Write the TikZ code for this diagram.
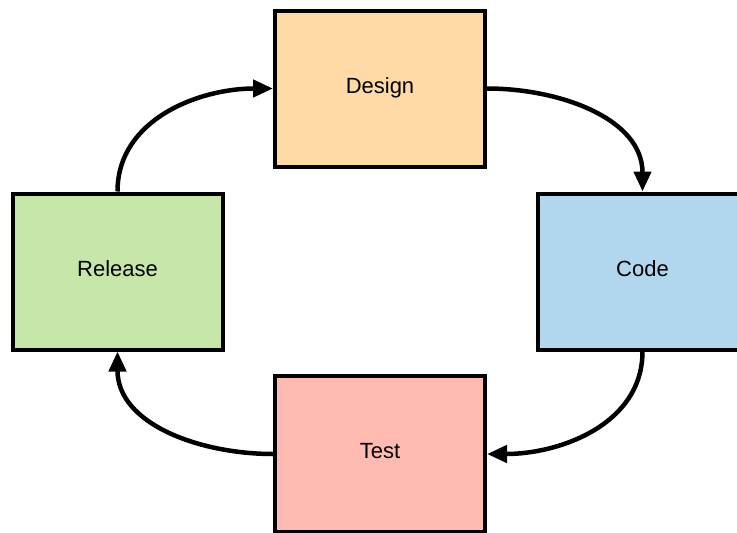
\documentclass[tikz,border=0pt]{standalone}
\usepackage{fontspec}
\setmainfont{Liberation Sans}
\usetikzlibrary{arrows.meta}
\definecolor{cdesign}{RGB}{255,217,166}
\definecolor{ccode}{RGB}{179,214,239}
\definecolor{crelease}{RGB}{198,230,170}
\definecolor{ctest}{RGB}{255,186,178}
\tikzset{
  stage/.style={draw=black, line width=4pt, minimum width=210pt, minimum height=156pt,
    inner sep=0pt, text height=15.75pt, text depth=6pt, font=\fontsize{22}{26}\selectfont},
  flow/.style={line width=4.5pt, -{Triangle[length=20pt,width=17pt]}}
}
\begin{document}
\begin{tikzpicture}[x=1pt,y=-1pt]
\useasboundingbox (0,0) rectangle (737,533);
\clip (0,0) rectangle (737,533);
\node[stage, fill=cdesign] (des) at (380,88.5) {Design};
\node[stage, fill=ccode] (cod) at (642.5,271.5) {Code};
\node[stage, fill=crelease] (rel) at (117.5,271.5) {Release};
\node[stage, fill=ctest] (tst) at (380,454) {Test};
\draw[flow] (rel.north) to[out=90,in=180] (des.west);
\draw[flow] (des.east) to[out=0,in=90] (cod.north);
\draw[flow] (cod.south) to[out=-90,in=0] (tst.east);
\draw[flow] (tst.west) to[out=180,in=-90] (rel.south);
\end{tikzpicture}
\end{document}
